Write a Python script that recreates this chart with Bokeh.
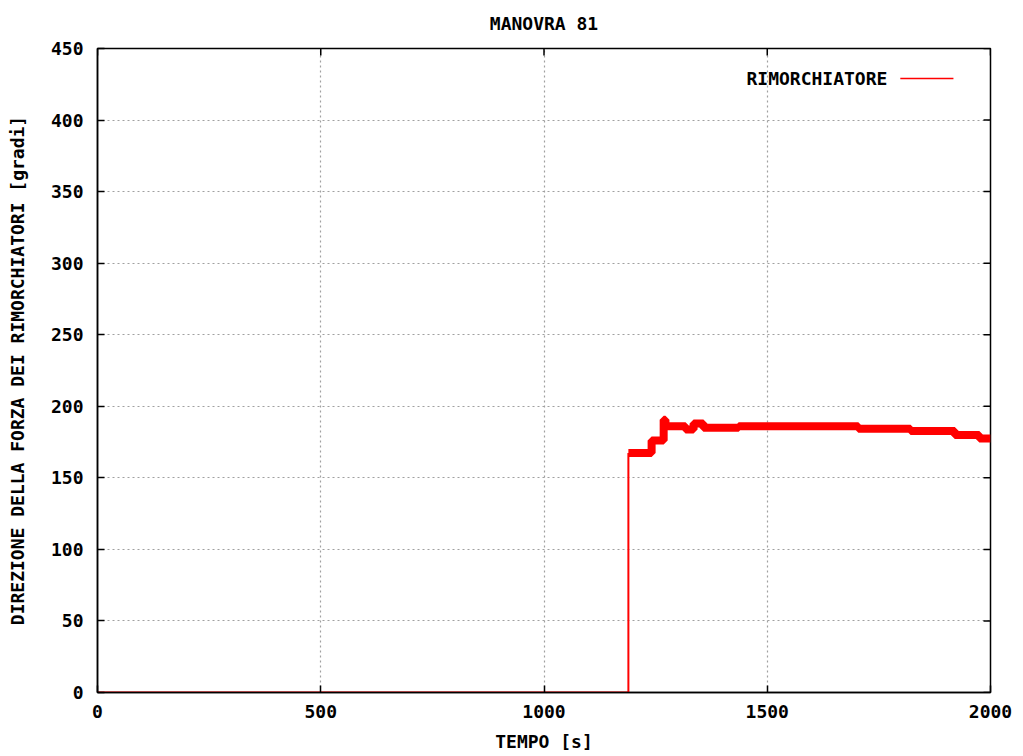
from bokeh.plotting import figure
from bokeh.models import Range1d, FixedTicker, Label, Arrow, Title
from bokeh.embed import file_html
from bokeh.resources import INLINE

# ---- data ----
rise_time = [0, 1189, 1189]
rise_angle = [0, 0, 167.4]

step_time = [1189, 1241, 1268, 1272, 1317, 1335, 1357, 1436, 1704, 1821, 1920, 1975, 2000]
step_angle = [167.4, 176.0, 190.5, 186.0, 183.8, 188.0, 185.0, 186.0, 184.3, 182.7, 180.0, 177.5, 177.5]

x_ticks = [0, 500, 1000, 1500, 2000]
y_ticks = [0, 50, 100, 150, 200, 250, 300, 350, 400, 450]

series_name = "RIMORCHIATORE"
FONT = "DejaVu Sans Mono"
FS = "18px"
RED = "#ff0000"
X0, X1, Y0, Y1 = 0, 2000, 0, 450

p = figure(width=1023, height=756, output_backend="svg", toolbar_location=None,
           x_range=Range1d(X0, X1), y_range=Range1d(Y0, Y1),
           min_border_left=97, min_border_right=33, min_border_top=48, min_border_bottom=64)
p.title = None
t = Title(text="MANOVRA 81", align="center", text_font=FONT, text_font_size=FS,
          text_font_style="bold", text_color="black", standoff=25, vertical_align="top")
p.add_layout(t, "above")

p.outline_line_color = "black"
p.outline_line_width = 1.5
p.background_fill_color = "white"
p.border_fill_color = "white"

for ax, ticks in ((p.xaxis[0], x_ticks), (p.yaxis[0], y_ticks)):
    ax.ticker = FixedTicker(ticks=ticks)
    ax.major_tick_in = 7
    ax.major_tick_out = 0
    ax.minor_tick_line_color = None
    ax.axis_line_color = "black"
    ax.axis_line_width = 1.5
    ax.major_tick_line_color = "black"
    ax.major_tick_line_width = 1.5
    ax.major_label_text_font = FONT
    ax.major_label_text_font_size = FS
    ax.major_label_text_font_style = "bold"
    ax.major_label_text_color = "black"
    ax.axis_label_text_font = FONT
    ax.axis_label_text_font_size = FS
    ax.axis_label_text_font_style = "bold"
    ax.axis_label_text_color = "black"

p.xaxis.axis_label = "TEMPO [s]"
p.xaxis.major_label_standoff = 12
p.xaxis.axis_label_standoff = 10
p.yaxis.axis_label = "DIREZIONE DELLA FORZA DEI RIMORCHIATORI [gradi]"
p.yaxis.major_label_standoff = 14
p.yaxis.axis_label_standoff = 20

for g, ticks in ((p.xgrid[0], x_ticks), (p.ygrid[0], y_ticks)):
    g.ticker = FixedTicker(ticks=ticks)
    g.grid_line_color = "#a0a0a0"
    g.grid_line_dash = "2 3"
    g.grid_line_width = 1.2

# mirror ticks (right and top), derived from the tick lists
tick_len_x = 7 * (X1 - X0) / 893.0
tick_len_y = 7 * (Y1 - Y0) / 644.0
p.segment(x0=[X1] * len(y_ticks), y0=y_ticks, x1=[X1 - tick_len_x] * len(y_ticks), y1=y_ticks,
          line_color="black", line_width=1.5)
p.segment(x0=x_ticks, y0=[Y1] * len(x_ticks), x1=x_ticks, y1=[Y1 - tick_len_y] * len(x_ticks),
          line_color="black", line_width=1.5)

# data
p.line(rise_time, rise_angle, line_color=RED, line_width=2)
p.step(step_time, step_angle, mode="after", line_color=RED, line_width=8)

# gnuplot-style key: text then sample line
p.add_layout(Label(x=1769, y=429, text=series_name, text_font=FONT, text_font_size=FS,
                   text_font_style="bold", text_color="black",
                   text_align="right", text_baseline="middle"))
p.add_layout(Arrow(x_start=1798, y_start=429, x_end=1917, y_end=429, end=None,
                   line_color=RED, line_width=1.5))

open("out.html", "w").write(file_html(p, INLINE))
